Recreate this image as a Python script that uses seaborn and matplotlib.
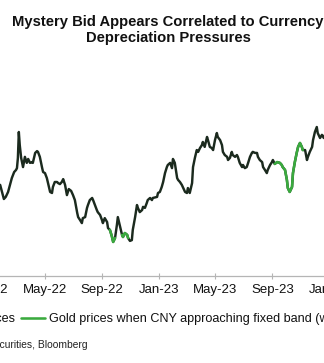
import numpy as np
import pandas as pd
import matplotlib
matplotlib.use("Agg")
import matplotlib.pyplot as plt
import seaborn as sns

# ---- data ----
dates = [
    "2022-01-03", "2022-01-10", "2022-01-17", "2022-01-21",
    "2022-01-26", "2022-01-30", "2022-02-03", "2022-02-07", "2022-02-12", "2022-02-16",
    "2022-02-20", "2022-02-25", "2022-03-01", "2022-03-03", "2022-03-05", "2022-03-07",
    "2022-03-09", "2022-03-12", "2022-03-16", "2022-03-20", "2022-03-24", "2022-03-27",
    "2022-03-31", "2022-04-04", "2022-04-06", "2022-04-11", "2022-04-15", "2022-04-17",
    "2022-04-21", "2022-04-26", "2022-04-28", "2022-05-02", "2022-05-06", "2022-05-08",
    "2022-05-13", "2022-05-17", "2022-05-19", "2022-05-23", "2022-05-28", "2022-05-30",
    "2022-06-03", "2022-06-07", "2022-06-10", "2022-06-14", "2022-06-18", "2022-06-22",
    "2022-06-27", "2022-07-01", "2022-07-05", "2022-07-10", "2022-07-12", "2022-07-16",
    "2022-07-20", "2022-07-22", "2022-07-27", "2022-07-31", "2022-08-02", "2022-08-06",
    "2022-08-11", "2022-08-13", "2022-08-17", "2022-08-21", "2022-08-23", "2022-08-28",
    "2022-09-01", "2022-09-03", "2022-09-07", "2022-09-12", "2022-09-14", "2022-09-18",
    "2022-09-22", "2022-09-25", "2022-09-29", "2022-10-03", "2022-10-05", "2022-10-10",
    "2022-10-14", "2022-10-16", "2022-10-20", "2022-10-25", "2022-10-27", "2022-10-31",
    "2022-11-04", "2022-11-06", "2022-11-11", "2022-11-15", "2022-11-17", "2022-11-21",
    "2022-11-26", "2022-11-28", "2022-12-02", "2022-12-06", "2022-12-08", "2022-12-13",
    "2022-12-17", "2022-12-19", "2022-12-28", "2022-12-30", "2023-01-03", "2023-01-07",
    "2023-01-10", "2023-01-14", "2023-01-18", "2023-01-20", "2023-01-25", "2023-01-29",
    "2023-01-31", "2023-02-04", "2023-02-09", "2023-02-11", "2023-02-15", "2023-02-19",
    "2023-02-21", "2023-02-26", "2023-03-02", "2023-03-04", "2023-03-08", "2023-03-13",
    "2023-03-15", "2023-03-19", "2023-03-23", "2023-03-26", "2023-03-30", "2023-04-03",
    "2023-04-05", "2023-04-09", "2023-04-14", "2023-04-16", "2023-04-20", "2023-04-24",
    "2023-04-27", "2023-05-01", "2023-05-05", "2023-05-07", "2023-05-12", "2023-05-16",
    "2023-05-18", "2023-05-22", "2023-05-27", "2023-05-29", "2023-06-02", "2023-06-06",
    "2023-06-08", "2023-06-13", "2023-06-17", "2023-06-19", "2023-06-23", "2023-06-28",
    "2023-06-30", "2023-07-04", "2023-07-08", "2023-07-11", "2023-07-15", "2023-07-19",
    "2023-07-21", "2023-07-26", "2023-07-30", "2023-08-01", "2023-08-05", "2023-08-10",
    "2023-08-12", "2023-08-16", "2023-08-20", "2023-08-22", "2023-08-27", "2023-08-31",
    "2023-09-02", "2023-09-06", "2023-09-11", "2023-09-17", "2023-09-21", "2023-09-23",
    "2023-09-28", "2023-10-02", "2023-10-04", "2023-10-08", "2023-10-13", "2023-10-15",
    "2023-10-19", "2023-10-23", "2023-10-26", "2023-10-30", "2023-11-03", "2023-11-05",
    "2023-11-10", "2023-11-14", "2023-11-16", "2023-11-20", "2023-11-25", "2023-11-27",
    "2023-12-01", "2023-12-05", "2023-12-07", "2023-12-12", "2023-12-16", "2023-12-20",
    "2023-12-28", "2024-01-05", "2024-01-12", "2024-01-19", "2024-01-26",
]
gold_prices = [
    1800, 1800, 1815, 1835,
    1848, 1821, 1794, 1802, 1821, 1848,
    1874, 1897, 1905, 1912, 1951, 2050,
    2000, 1951, 1916, 1955, 1932, 1947,
    1932, 1935, 1932, 1970, 1977, 1974,
    1955, 1912, 1897, 1893, 1874, 1859,
    1821, 1817, 1840, 1859, 1859, 1855,
    1851, 1859, 1870, 1848, 1809, 1832,
    1825, 1809, 1790, 1741, 1725, 1714,
    1702, 1721, 1725, 1760, 1771, 1790,
    1798, 1790, 1771, 1752, 1744, 1733,
    1714, 1702, 1721, 1706, 1683, 1676,
    1653, 1630, 1645, 1695, 1725, 1687,
    1657, 1649, 1664, 1657, 1645, 1634,
    1637, 1676, 1725, 1771, 1760, 1744,
    1752, 1764, 1760, 1779, 1790, 1798,
    1790, 1798, 1802, 1817, 1821, 1840,
    1859, 1893, 1916, 1924, 1932, 1912,
    1947, 1932, 1874, 1867, 1859, 1848,
    1840, 1821, 1817, 1836, 1817, 1855,
    1916, 1951, 1981, 1974, 1989, 2000,
    2012, 1993, 2031, 2019, 1993, 1989,
    1981, 2019, 2046, 2031, 2019, 2000,
    1974, 1962, 1955, 1943, 1951, 1974,
    1962, 1955, 1962, 1955, 1932, 1916,
    1924, 1912, 1916, 1932, 1955, 1970,
    1974, 1970, 1970, 1955, 1943, 1935,
    1916, 1905, 1893, 1905, 1924, 1935,
    1943, 1928, 1935, 1932, 1924, 1916,
    1905, 1867, 1836, 1821, 1840, 1893,
    1935, 1970, 1993, 2008, 1993, 1981,
    1981, 1943, 1955, 1974, 1993, 2019,
    2050, 2069, 2046, 2027, 2039, 2027,
    2065, 2045, 2050, 2030, 2018,
]
band_periods = [
    ("2022-09-18", "2022-09-29"),
    ("2022-10-14", "2022-10-27"),
    ("2023-09-06", "2023-11-05"),
]
tick_dates = ["2022-01-01", "2022-05-01", "2022-09-01", "2023-01-01",
              "2023-05-01", "2023-09-01", "2024-01-01"]
tick_labels = ["Jan-22", "May-22", "Sep-22", "Jan-23", "May-23", "Sep-23", "Jan-24"]
series_names = ["Gold prices", "Gold prices when CNY approaching fixed band (weak side)"]

df = pd.DataFrame({"date": pd.to_datetime(dates), "price": gold_prices})
df["segment"] = -1
for i, (a, b) in enumerate(band_periods):
    sel = (df["date"] >= pd.Timestamp(a)) & (df["date"] <= pd.Timestamp(b))
    df.loc[sel, "segment"] = i
band_df = df[df["segment"] >= 0]

sns.set_theme(style="white")
plt.rcParams["font.family"] = ["Liberation Sans", "DejaVu Sans"]

W, H = 324, 363
fig = plt.figure(figsize=(W / 100, H / 100), dpi=100)
# axes extends past the figure edges (the reference is a crop)
ax_left_px, ax_right_px = -16.2, 343.4
ax_bottom_px, ax_top_px = 276, 105.8
ax = fig.add_axes([ax_left_px / W, (H - ax_bottom_px) / H,
                   (ax_right_px - ax_left_px) / W, (ax_bottom_px - ax_top_px) / H])

sns.lineplot(data=df, x="date", y="price", ax=ax, color="#1b2a1e", linewidth=1.75,
             label=series_names[0], legend=False)
sns.lineplot(data=band_df, x="date", y="price", units="segment", estimator=None, ax=ax,
             color="#3aaa3e", linewidth=1.85, label=series_names[1], legend=False)

ax.set_xlim(pd.Timestamp("2021-12-22"), pd.Timestamp("2024-01-31"))
ax.set_ylim(1500, 2150)
ax.set_xticks(pd.to_datetime(tick_dates))
ax.set_xticklabels(tick_labels)
ax.set_yticks([])
ax.set_xlabel("")
ax.set_ylabel("")
for s in ["left", "right", "top"]:
    ax.spines[s].set_visible(False)
ax.spines["bottom"].set_color("#b5b5b5")
ax.spines["bottom"].set_linewidth(0.9)
ax.tick_params(axis="x", direction="inout", length=4, width=0.8, color="#b5b5b5",
               pad=4, labelsize=9.5, labelcolor="#111111", bottom=True)

handles, labels = ax.get_legend_handles_labels()
uniq = {}
for h, l in zip(handles, labels):
    if l not in uniq:
        uniq[l] = h
leg = fig.legend(list(uniq.values()), list(uniq.keys()), loc="center left",
                 bbox_to_anchor=(-76 / W, (H - 319) / H), ncol=2, frameon=False,
                 fontsize=9.1, handlelength=1.85, handletextpad=0.32,
                 columnspacing=0.48, borderpad=0, borderaxespad=0)
for t in leg.get_texts():
    t.set_color("#111111")

fig.text(168 / W, 1 - 30 / H, "Mystery Bid Appears Correlated to Currency\nDepreciation Pressures",
         ha="center", va="center", fontsize=10.6, fontweight="bold", color="#111111",
         linespacing=1.2)
fig.text(88 / W, (H - 345) / H, "Source: TD Securities, Bloomberg", ha="right",
         va="center", fontsize=7.4, color="#222222")

fig.savefig("out.png", dpi=100)
